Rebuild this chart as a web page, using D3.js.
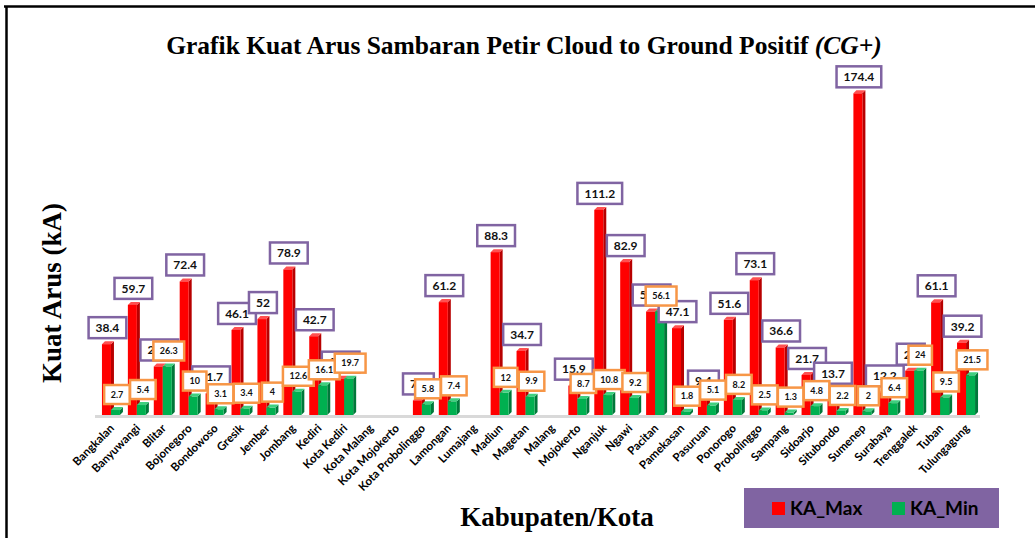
<!DOCTYPE html>
<html>
<head>
<meta charset="utf-8">
<script src="https://cdn.jsdelivr.net/npm/d3@7"></script>
<style>
  body { margin: 0; background: #fff; }
  svg { display: block; }
</style>
</head>
<body>
<script>
'use strict';

// data (null = no CG+ strike)
var categories = ["Bangkalan", "Banyuwangi", "Blitar", "Bojonegoro", "Bondowoso", "Gresik",
    "Jember", "Jombang", "Kediri", "Kota Kediri", "Kota Malang", "Kota Mojokerto",
    "Kota Probolinggo", "Lamongan", "Lumajang", "Madiun", "Magetan", "Malang", "Mojokerto",
    "Nganjuk", "Ngawi", "Pacitan", "Pamekasan", "Pasuruan", "Ponorogo", "Probolinggo",
    "Sampang", "Sidoarjo", "Situbondo", "Sumenep", "Surabaya", "Trenggalek", "Tuban",
    "Tulungagung"];
var kaMax = [38.4, 59.7, 26.3, 72.4, 11.7, 46.1, 52, 78.9, 42.7, 19.7, null, null,
    7.9, 61.2, null, 88.3, 34.7, null, 15.9, 111.2, 82.9, 56.1, 47.1, 9.4, 51.6, 73.1,
    36.6, 21.7, 13.7, 174.4, 12.2, 24, 61.1, 39.2];
var kaMin = [2.7, 5.4, 26.3, 10, 3.1, 3.4, 4, 12.6, 16.1, 19.7, null, null,
    5.8, 7.4, null, 12, 9.9, null, 8.7, 10.8, 9.2, 56.1, 1.8, 5.1, 8.2, 2.5,
    1.3, 4.8, 2.2, 2, 6.4, 24, 9.5, 21.5];
var seriesNames = ["KA_Max", "KA_Min"];

var width = 1035, height = 538;
var base = 415;   // floor line
var depth = 3;    // 3d offset of the columns

var svg = d3.select("body").append("svg")
    .attr("width", width)
    .attr("height", height);

var x = d3.scaleBand().domain(categories).range([99, 980]);
var y = d3.scaleLinear().domain([0, 180]).range([base, 83]);

// frame (right and bottom edges are cut off in the original)
svg.append("line").attr("x1", 4).attr("x2", width).attr("y1", 6.5).attr("y2", 6.5)
    .attr("stroke", "#000").attr("stroke-width", 2.5);
svg.append("line").attr("x1", 6.5).attr("x2", 6.5).attr("y1", 6).attr("y2", height)
    .attr("stroke", "#000").attr("stroke-width", 2.5);

// title
var title = svg.append("text")
    .attr("x", 524).attr("y", 54)
    .attr("text-anchor", "middle")
    .style("font-family", "'Liberation Serif', 'Times New Roman', serif")
    .style("font-weight", "bold")
    .style("font-size", "25.5px");
title.append("tspan").text("Grafik Kuat Arus Sambaran Petir Cloud to Ground Positif ");
title.append("tspan").style("font-style", "italic").text("(CG+)");

// floor
svg.append("rect")
    .attr("x", 95).attr("y", base)
    .attr("width", 885).attr("height", 3)
    .attr("fill", "#d9d9d9");

var colors = {
    red: { front: "#ff0000", side: "#b80000", top: "#ff5050" },
    green: { front: "#00b050", side: "#00783a", top: "#3fcf7f" }
};

function drawBars(values, dx, c) {
    var rows = categories.map(function(d, i) { return { cat: d, v: values[i] }; })
        .filter(function(d) { return d.v != null; });
    var g = svg.append("g");
    var bar = g.selectAll("g").data(rows).enter().append("g");
    var bw = 9;
    bar.append("path")
        .attr("fill", c.side)
        .attr("d", function(d) {
            var x0 = x(d.cat) + x.bandwidth() / 2 + dx + bw, yt = y(d.v);
            return "M" + x0 + "," + yt + "L" + (x0 + depth) + "," + (yt - depth) +
                "L" + (x0 + depth) + "," + (base - depth) + "L" + x0 + "," + base + "Z";
        });
    bar.append("path")
        .attr("fill", c.top)
        .attr("d", function(d) {
            var x0 = x(d.cat) + x.bandwidth() / 2 + dx, yt = y(d.v);
            return "M" + x0 + "," + yt + "L" + (x0 + depth) + "," + (yt - depth) +
                "L" + (x0 + bw + depth) + "," + (yt - depth) + "L" + (x0 + bw) + "," + yt + "Z";
        });
    bar.append("rect")
        .attr("x", function(d) { return x(d.cat) + x.bandwidth() / 2 + dx; })
        .attr("y", function(d) { return y(d.v); })
        .attr("width", bw)
        .attr("height", function(d) { return base - y(d.v); })
        .attr("fill", c.front);
    return rows;
}

var maxRows = drawBars(kaMax, -10, colors.red);
var minRows = drawBars(kaMin, -1, colors.green);

// value boxes, max first so the min boxes sit on top like in the original
function drawLabels(rows, dx, opt) {
    var g = svg.append("g");
    var lab = g.selectAll("g").data(rows).enter().append("g")
        .attr("transform", function(d) {
            return "translate(" + (x(d.cat) + x.bandwidth() / 2 + dx) + "," + (y(d.v) - 6 - opt.h) + ")";
        });
    lab.append("rect")
        .attr("y", 0).attr("height", opt.h)
        .attr("fill", "#fff")
        .attr("stroke", opt.stroke)
        .attr("stroke-width", 2.5);
    var txt = lab.append("text")
        .attr("y", opt.h / 2)
        .attr("dy", "0.36em")
        .attr("text-anchor", "middle")
        .style("font-family", "Lato, 'Open Sans', sans-serif")
        .style("font-weight", "bold")
        .style("font-size", opt.fs + "px")
        .attr("fill", "#111")
        .text(function(d) { return d.v; });
    txt.each(function() {
        var w = Math.max(this.getComputedTextLength() + opt.pad, opt.minW);
        d3.select(this.previousSibling).attr("x", -w / 2).attr("width", w);
    });
}

drawLabels(maxRows, -4.5, { h: 21, fs: 12, pad: 14, minW: 26, stroke: "#8064a2" });
drawLabels(minRows, 5, { h: 19, fs: 9, pad: 13, minW: 21, stroke: "#f79646" });

// category labels
svg.append("g").selectAll("text").data(categories).enter().append("text")
    .attr("transform", function(d) {
        return "translate(" + (x(d) + x.bandwidth() / 2 + 3) + ",429) rotate(-45)";
    })
    .attr("text-anchor", "end")
    .style("font-family", "Lato, 'Open Sans', sans-serif")
    .style("font-weight", "bold")
    .style("font-size", "11.5px")
    .text(function(d) { return d; });

// axis titles
svg.append("text")
    .attr("transform", "translate(61,293) rotate(-90)")
    .attr("text-anchor", "middle")
    .style("font-family", "'Liberation Serif', 'Times New Roman', serif")
    .style("font-weight", "bold")
    .style("font-size", "27px")
    .text("Kuat Arus (kA)");

svg.append("text")
    .attr("x", 557).attr("y", 526)
    .attr("text-anchor", "middle")
    .style("font-family", "'Liberation Serif', 'Times New Roman', serif")
    .style("font-weight", "bold")
    .style("font-size", "27px")
    .text("Kabupaten/Kota");

// legend
var legend = svg.append("g");
legend.append("rect")
    .attr("x", 744).attr("y", 488).attr("width", 255).attr("height", 40)
    .attr("fill", "#8064a2");
var item = legend.selectAll("g.item").data(seriesNames).enter().append("g")
    .attr("class", "item")
    .attr("transform", function(d, i) { return "translate(" + (772 + i * 120) + ",502)"; });
item.append("rect")
    .attr("width", 13).attr("height", 13)
    .attr("fill", function(d, i) { return i ? colors.green.front : colors.red.front; });
item.append("text")
    .attr("x", 18).attr("y", 12.5)
    .style("font-family", "Lato, 'Open Sans', sans-serif")
    .style("font-weight", "bold")
    .style("font-size", "19px")
    .attr("fill", "#000")
    .text(function(d) { return d; });
</script>
</body>
</html>
